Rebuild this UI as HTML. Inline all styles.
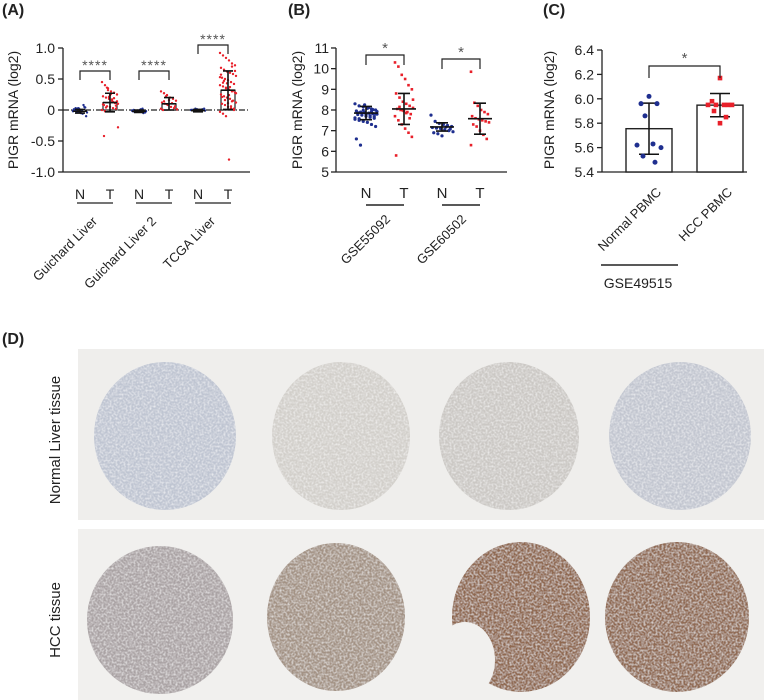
<!DOCTYPE html>
<html><head><meta charset="utf-8">
<style>
html,body{margin:0;padding:0;background:#fff;}
svg{display:block;font-family:"Liberation Sans",Arial,sans-serif;}
</style></head>
<body>
<svg id="fig" width="773" height="700" viewBox="0 0 773 700" xmlns="http://www.w3.org/2000/svg">
<defs>
<filter id="tex" x="0" y="0" width="100%" height="100%">
<feTurbulence type="fractalNoise" baseFrequency="0.5" numOctaves="2" seed="3" result="n"/>
<feColorMatrix in="n" type="matrix" values="0 0 0 0 1  0 0 0 0 1  0 0 0 0 1  0 0 0 1.2 -0.45" result="w"/>
<feComposite in="w" in2="SourceGraphic" operator="in" result="wm"/>
<feMerge><feMergeNode in="SourceGraphic"/><feMergeNode in="wm"/></feMerge>
</filter>
</defs>
<g id="pA"></g>
<g id="pB"></g>
<g id="pC"></g>
<g id="pD">
<text x="2" y="344" font-size="16" font-weight="bold" fill="#222">(D)</text>
<rect x="78" y="349" width="686" height="171" fill="#efeeec"/>
<rect x="78" y="529" width="686" height="171" fill="#f1f0ee"/>
<text transform="translate(60,440) rotate(-90)" text-anchor="middle" font-size="15" fill="#222">Normal Liver tissue</text>
<text transform="translate(60,620) rotate(-90)" text-anchor="middle" font-size="15" fill="#222">HCC tissue</text>
<ellipse cx="165" cy="436" rx="71" ry="74" fill="#bfc5d2" filter="url(#tex)"/>
<ellipse cx="341" cy="436" rx="69" ry="74" fill="#d2cfca" filter="url(#tex)"/>
<ellipse cx="509" cy="436" rx="70" ry="74" fill="#cbc8c4" filter="url(#tex)"/>
<ellipse cx="680" cy="436" rx="71" ry="74" fill="#c2c6d0" filter="url(#tex)"/>
<ellipse cx="160" cy="620" rx="73" ry="74" fill="#aaa3a4" filter="url(#tex)"/>
<ellipse cx="336" cy="617" rx="69" ry="74" fill="#a39284" filter="url(#tex)"/>
<ellipse cx="521" cy="617" rx="69" ry="75" fill="#8f6750" filter="url(#tex)"/>
<ellipse cx="465" cy="660" rx="30" ry="38" fill="#f1f0ee"/>
<ellipse cx="677" cy="617" rx="72" ry="75" fill="#906a52" filter="url(#tex)"/>
</g>
<script>
// ---------- Panel A data ----------
const aCategories = ["N","T","N","T","N","T"];
const aDatasets = ["Guichard Liver","Guichard Liver 2","TCGA Liver"];
const aMeans = [-0.02, 0.12, -0.02, 0.10, -0.01, 0.32];
const aSD = [0.03, 0.15, 0.02, 0.10, 0.02, 0.31];
const aPoints = [
 [-0.02,0,0.03,-0.05,0.08,-0.1,0.01,-0.03,0.02,-0.01,0.05,-0.04,0,0.02,-0.02,-0.06,0.04,-0.01,0.03,-0.03],
 [0.45,0.4,0.35,0.3,0.28,0.25,0.22,0.2,0.18,0.15,0.12,0.1,0.08,0.06,0.05,0.03,0.02,0,-0.02,0.32,0.26,0.19,0.14,0.09,0.04,0.21,0.17,0.11,-0.28,-0.42,0.36,0.24,0.13,0.07],
 [-0.01,-0.03,-0.02,0,0.02,-0.04,-0.02,-0.01,-0.03,0.01,-0.05,-0.02,0,-0.03],
 [0.3,0.27,0.24,0.2,0.18,0.15,0.12,0.1,0.08,0.05,0.03,0.01,0,0.22,0.16,0.11,0.06,0.02,0.14,0.09],
 [0,-0.01,0.01,0,-0.01,0.02,0,-0.02,0.01,0,0.01,-0.01,0,0.02,-0.01,0],
 [0.92,0.88,0.84,0.8,0.75,0.72,0.68,0.65,0.62,0.6,0.58,0.55,0.52,0.5,0.48,0.45,0.42,0.4,0.38,0.35,0.33,0.3,0.28,0.25,0.22,0.2,0.18,0.15,0.12,0.1,0.08,0.05,0.03,0,-0.03,-0.06,-0.1,-0.8,0.7,0.63,0.57,0.47,0.43,0.37,0.31,0.27,0.21,0.16,0.11,0.06,0.02,0.53,0.44,0.36,0.24,0.14]
];
const aTicks = [1.0,0.5,0,-0.5,-1.0];
const aTickLabels = ["1.0","0.5","0","-0.5","-1.0"];

// ---------- Panel B data ----------
const bCategories = ["N","T","N","T"];
const bDatasets = ["GSE55092","GSE60502"];
const bMeans = [7.85, 8.05, 7.18, 7.58];
const bSD = [0.32, 0.75, 0.2, 0.75];
const bPoints = [
 [8.3,8.2,8.15,8.1,8.05,8.0,7.95,7.9,7.88,7.85,7.82,7.8,7.78,7.75,7.7,7.65,7.6,7.55,7.5,7.45,7.4,7.3,7.2,6.6,6.3,8.25,8.12,8.02,7.92,7.87,7.83,7.77,7.72,7.68,7.62,7.58,7.98,8.08,7.93,7.81],
 [10.3,10.1,9.7,9.5,9.2,9.0,8.8,8.6,8.4,8.3,8.2,8.1,8.05,8.0,7.95,7.9,7.8,7.7,7.5,7.3,7.1,6.9,6.7,5.8,8.15,7.98,7.85,7.6,8.5],
 [7.75,7.45,7.35,7.3,7.25,7.2,7.15,7.12,7.1,7.05,7.0,6.95,6.9,6.85,6.75,7.18,7.08],
 [9.85,8.35,8.2,8.0,7.9,7.8,7.7,7.6,7.55,7.5,7.45,7.4,7.3,7.2,7.0,6.8,6.6,6.3]
];
const bTicks = [11,10,9,8,7,6,5];

// ---------- Panel C data ----------
const cCategories = ["Normal PBMC","HCC PBMC"];
const cMeans = [5.755, 5.948];
const cSD = [0.21, 0.095];
const cPoints = [
 [6.02,5.96,5.96,5.86,5.63,5.62,5.6,5.53,5.48],
 [6.17,5.98,5.95,5.95,5.95,5.95,5.95,5.9,5.85,5.8]
];
const cTicks = [6.4,6.2,6.0,5.8,5.6,5.4];
const cTickLabels = ["6.4","6.2","6.0","5.8","5.6","5.4"];

const NS="http://www.w3.org/2000/svg";
function mk(parent, tag, attrs){const e=document.createElementNS(NS,tag);for(const k in attrs)e.setAttribute(k,attrs[k]);parent.appendChild(e);return e;}
function txt(parent, s, attrs){const e=mk(parent,'text',attrs);e.textContent=s;return e;}
const BLUE="#1f2f8f", RED="#e8202a", INK="#222";
function jit(i,w){return (((i*37)%17)-8)/8*w;}

// ===== Panel A =====
(function(){
 const g=document.getElementById('pA');
 const yA=v=>110-v*62;
 const xs=[80,110,139,169,198,228];
 let t=txt(g,"(A)",{x:2,y:15,"font-size":16,"font-weight":"bold",fill:INK});
 
 
 t=txt(g,"PIGR mRNA (log2)",{transform:"translate(18,110) rotate(-90)","text-anchor":"middle","font-size":14,fill:INK});
 
 
 let l=mk(g,'line',{x1:63,y1:yA(1),x2:63,y2:172,stroke:INK,"stroke-width":1.3});
 
 
 l=mk(g,'line',{x1:63,y1:172,x2:250,y2:172,stroke:INK,"stroke-width":1.3});
 
 
 l=mk(g,'line',{x1:63,y1:yA(0),x2:250,y2:yA(0),stroke:INK,"stroke-width":1.2,"stroke-dasharray":"6,2,1,2"});
 
 
 aTicks.forEach((v,i)=>{
  const tk=mk(g,'line',{x1:58,y1:yA(v),x2:63,y2:yA(v),stroke:INK,"stroke-width":1.3});
  
  
  const tl=txt(g,aTickLabels[i],{x:55,y:yA(v)+5,"text-anchor":"end","font-size":14,fill:INK});
  
  
 });
 aMeans.forEach((m,i)=>{
  const x=xs[i], isT=i%2===1;
  if(isT){
   const b=mk(g,'rect',{x:x-7,y:Math.min(yA(m),yA(0)),width:14,height:Math.abs(yA(m)-yA(0)),fill:"#fff",stroke:INK,"stroke-width":1.2});
   
   
  }
  aPoints[i].forEach((v,j)=>{
   const c=mk(g,'circle',{cx:x+jit(j,isT?8:7),cy:yA(v),r:1.2,fill:isT?RED:BLUE});
   
   
  });
  const hi=yA(m+aSD[i]), lo=yA(m-aSD[i]);
  const e=mk(g,'path',{d:`M${x},${hi}V${lo}M${x-5},${hi}H${x+5}M${x-5},${lo}H${x+5}M${x-7},${yA(m)}H${x+7}`,stroke:"#111","stroke-width":1.6,fill:"none"});
  
  
  const lab=txt(g,aCategories[i],{x:x,y:199,"text-anchor":"middle","font-size":14,fill:INK});
  
  
 });
 const brY=[71,71,45];
 aDatasets.forEach((d,k)=>{
  const x1=xs[2*k], x2=xs[2*k+1];
  const u=mk(g,'line',{x1:x1-3,y1:203,x2:x2+3,y2:203,stroke:INK,"stroke-width":1.3});
  
  
  const br=mk(g,'path',{d:`M${x1},${brY[k]+9}V${brY[k]}H${x2}V${brY[k]+9}`,stroke:INK,"stroke-width":1.2,fill:"none"});
  
  
  const s=txt(g,"****",{x:(x1+x2)/2,y:brY[k]-1,"text-anchor":"middle","font-size":14,fill:"#555","letter-spacing":"1"});
  
  
  const dl=txt(g,d,{transform:`translate(${x2-12},222) rotate(-45)`,"text-anchor":"end","font-size":13,fill:INK});
  
  
 });
})();

// ===== Panel B =====
(function(){
 const g=document.getElementById('pB');
 const yB=v=>172-(v-5)*20.67;
 const xs=[366,404,442,480];
 let t=txt(g,"(B)",{x:288,y:15,"font-size":16,"font-weight":"bold",fill:INK});
 
 
 t=txt(g,"PIGR mRNA (log2)",{transform:"translate(302,110) rotate(-90)","text-anchor":"middle","font-size":14,fill:INK});
 
 
 let l=mk(g,'line',{x1:336,y1:yB(11),x2:336,y2:172,stroke:INK,"stroke-width":1.3});
 
 
 l=mk(g,'line',{x1:336,y1:172,x2:507,y2:172,stroke:INK,"stroke-width":1.3});
 
 
 bTicks.forEach(v=>{
  const tk=mk(g,'line',{x1:331,y1:yB(v),x2:336,y2:yB(v),stroke:INK,"stroke-width":1.3});
  
  
  const tl=txt(g,String(v),{x:329,y:yB(v)+5,"text-anchor":"end","font-size":14,fill:INK});
  
  
 });
 bMeans.forEach((m,i)=>{
  const x=xs[i], isT=i%2===1;
  bPoints[i].forEach((v,j)=>{
   const sh=isT?mk(g,'rect',{x:x+jit(j,9)-1.3,y:yB(v)-1.3,width:2.6,height:2.6,fill:RED}):mk(g,'circle',{cx:x+jit(j,11),cy:yB(v),r:1.6,fill:BLUE});
   
   
  });
  const hi=yB(m+bSD[i]), lo=yB(m-bSD[i]);
  const e=mk(g,'path',{d:`M${x},${hi}V${lo}M${x-6},${hi}H${x+6}M${x-6},${lo}H${x+6}M${x-12},${yB(m)}H${x+12}`,stroke:"#111","stroke-width":1.6,fill:"none"});
  
  
  const lab=txt(g,bCategories[i],{x:x,y:198,"text-anchor":"middle","font-size":15,fill:INK});
  
  
 });
 const brY=[55,59];
 bDatasets.forEach((d,k)=>{
  const x1=xs[2*k], x2=xs[2*k+1];
  const u=mk(g,'line',{x1:x1,y1:205,x2:x2,y2:205,stroke:INK,"stroke-width":1.5});
  
  
  const br=mk(g,'path',{d:`M${x1},${brY[k]+10}V${brY[k]}H${x2}V${brY[k]+10}`,stroke:INK,"stroke-width":1.2,fill:"none"});
  
  
  const s=txt(g,"*",{x:(x1+x2)/2,y:brY[k]-2,"text-anchor":"middle","font-size":15,fill:"#555"});
  
  
  const dl=txt(g,d,{transform:`translate(${x2-13},220) rotate(-45)`,"text-anchor":"end","font-size":13,fill:INK});
  
  
 });
})();

// ===== Panel C =====
(function(){
 const g=document.getElementById('pC');
 const yC=v=>172-(v-5.4)*122;
 const xs=[649,720];
 let t=txt(g,"(C)",{x:543,y:15,"font-size":16,"font-weight":"bold",fill:INK});
 
 
 t=txt(g,"PIGR mRNA (log2)",{transform:"translate(554,110) rotate(-90)","text-anchor":"middle","font-size":14,fill:INK});
 
 
 let l=mk(g,'line',{x1:602,y1:yC(6.4),x2:602,y2:172,stroke:INK,"stroke-width":1.3});
 
 
 l=mk(g,'line',{x1:602,y1:172,x2:747,y2:172,stroke:INK,"stroke-width":1.3});
 
 
 cTicks.forEach((v,i)=>{
  const tk=mk(g,'line',{x1:597,y1:yC(v),x2:602,y2:yC(v),stroke:INK,"stroke-width":1.3});
  
  
  const tl=txt(g,cTickLabels[i],{x:594,y:yC(v)+5,"text-anchor":"end","font-size":14,fill:INK});
  
  
 });
 cMeans.forEach((m,i)=>{
  const x=xs[i];
  const b=mk(g,'rect',{x:x-23,y:yC(m),width:46,height:172-yC(m),fill:"#fff",stroke:INK,"stroke-width":1.4});
  
  
  const hi=yC(m+cSD[i]), lo=yC(m-cSD[i]);
  const e=mk(g,'path',{d:`M${x},${hi}V${lo}M${x-10},${hi}H${x+10}M${x-10},${lo}H${x+10}`,stroke:"#111","stroke-width":1.5,fill:"none"});
  
  
  cPoints[i].forEach((v,j)=>{
   const off=[0,-4,4,-2,2,-6,6,-3,3,0][j%10]*2;
   const sh=i===1?mk(g,'rect',{x:x+off-2.3,y:yC(v)-2.3,width:4.6,height:4.6,fill:RED}):mk(g,'circle',{cx:x+off,cy:yC(v),r:2.5,fill:BLUE});
   
   
  });
  const dl=txt(g,cCategories[i],{transform:`translate(${x+13},193) rotate(-45)`,"text-anchor":"end","font-size":13,fill:INK});
  
  
 });
 const br=mk(g,'path',{d:`M${xs[0]},78V66H${xs[1]}V78`,stroke:INK,"stroke-width":1.2,fill:"none"});
 
 
 const s=txt(g,"*",{x:(xs[0]+xs[1])/2,y:63,"text-anchor":"middle","font-size":15,fill:"#555"});
 
 
 const u=mk(g,'line',{x1:601,y1:265,x2:678,y2:265,stroke:INK,"stroke-width":1.4});
 
 
 const gl=txt(g,"GSE49515",{x:638,y:288,"text-anchor":"middle","font-size":14,fill:INK});
 
 
})();
</script>
</svg>
</body></html>
